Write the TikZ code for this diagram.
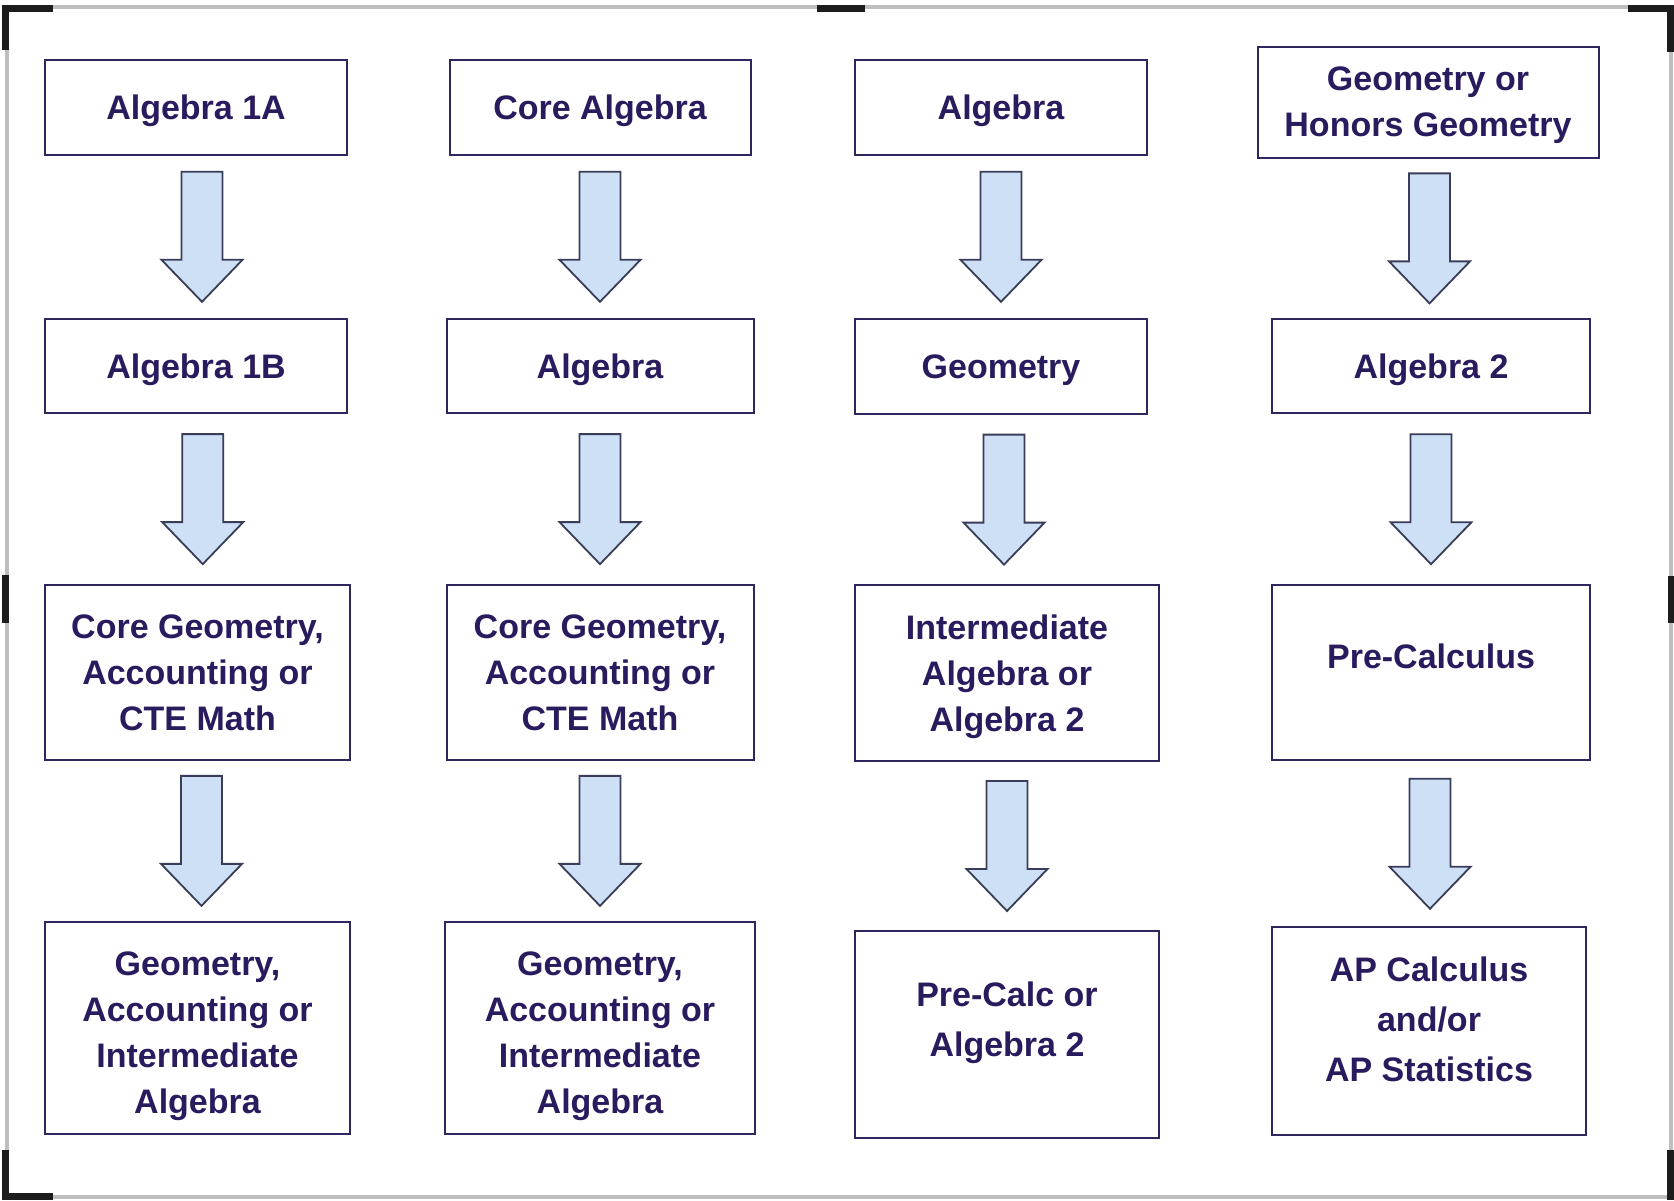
\documentclass[tikz,border=0pt]{standalone}
\usepackage{fontspec}
\setmainfont{Liberation Sans}
\usetikzlibrary{positioning,calc}
\definecolor{ink}{HTML}{2A1A5E}
\definecolor{boxline}{HTML}{2F2660}
\definecolor{arrline}{HTML}{3A3D58}
\definecolor{arrfill}{HTML}{CDE0F5}
\definecolor{framegrey}{HTML}{BEBEBE}
\definecolor{framedark}{HTML}{1C1C1C}
\tikzset{
  every node/.style={font=\bfseries\fontsize{17}{23}\selectfont, text=ink},
  course/.style={draw=boxline, line width=1pt, fill=white, align=center, inner sep=2pt, text depth=0pt},
  blockarr/.style={draw=arrline, fill=arrfill, line width=0.9pt, line join=miter},
  rim/.style={draw=framegrey, line width=2pt},
  bracket/.style={draw=framedark, line width=3.5pt},
}
% block arrow between two stacked boxes: [xshift]{upper}{lower}
\newcommand{\stepdown}[3][0pt]{%
  \draw[blockarr, shift={($(#2.south)!0.5!(#3.north)$)}, xshift=#1]
    (-10.25pt,32.5pt) -- (10.25pt,32.5pt) -- (10.25pt,-11.5pt) -- (20.25pt,-11.5pt)
    -- (0pt,-32.5pt) -- (-20.25pt,-11.5pt) -- (-10.25pt,-11.5pt) -- cycle;}

\begin{document}
\begin{tikzpicture}[x=0.5pt, y=-0.5pt]
  \useasboundingbox[fill=white] (0,0) rectangle (1674,1200);

  % ---- frame ------------------------------------------------------------
  \draw[rim] (7,7) rectangle (1671,1197);
  \draw[bracket] (5,50) -- (5,8) -- (53,8);
  \draw[bracket] (1628,8) -- (1670,8) -- (1670,52);
  \draw[bracket] (5,1150) -- (5,1196) -- (53,1196);
  \draw[bracket] (1670,1150) -- (1670,1200);
  \draw[bracket] (817,8) -- (865,8);
  \draw[bracket] (5,575) -- (5,623);
  \draw[bracket] (1671,576) -- (1671,623);

  % ---- column 1 ---------------------------------------------------------
  \node[course, minimum width=151pt, minimum height=47.5pt] (a1) at (196,107) {Algebra 1A};
  \node[course, below=81.3pt of a1, minimum width=151pt, minimum height=47pt] (a2) {Algebra 1B};
  \node[course, below=85pt of a2, minimum width=152.5pt, minimum height=87.5pt, xshift=0.75pt] (a3)
    {Core Geometry,\\Accounting or\\CTE Math};
  \node[course, below=79.75pt of a3, minimum width=152.5pt, minimum height=106pt, text height=85.5pt] (a4)
    {Geometry,\\Accounting or\\Intermediate\\Algebra};

  % ---- column 2 ---------------------------------------------------------
  \node[course, minimum width=150.5pt, minimum height=47.5pt] (b1) at (600,107) {Core Algebra};
  \node[course, below=81.3pt of b1, minimum width=153.5pt, minimum height=47pt] (b2) {Algebra};
  \node[course, below=85pt of b2, minimum width=153.5pt, minimum height=87.5pt] (b3)
    {Core Geometry,\\Accounting or\\CTE Math};
  \node[course, below=79.75pt of b3, minimum width=155pt, minimum height=106pt, text height=85.5pt] (b4)
    {Geometry,\\Accounting or\\Intermediate\\Algebra};

  % ---- column 3 ---------------------------------------------------------
  \node[course, minimum width=146pt, minimum height=47.5pt] (c1) at (1001,107) {Algebra};
  \node[course, below=81.3pt of c1, minimum width=146pt, minimum height=47.5pt] (c2) {Geometry};
  \node[course, below=84.5pt of c2, minimum width=152pt, minimum height=88pt, xshift=3pt] (c3)
    {Intermediate\\Algebra or\\Algebra 2};
  \node[course, below=83.9pt of c3, minimum width=152pt, minimum height=103.5pt, text depth=15pt] (c4)
    {Pre-Calc or\\[2pt]Algebra 2};

  % ---- column 4 ---------------------------------------------------------
  \node[course, minimum width=170.5pt, minimum height=55.5pt, text depth=-3.7pt] (d1) at (1428,102)
    {Geometry or\\Honors Geometry};
  \node[course, below=79.85pt of d1, minimum width=159pt, minimum height=47pt, xshift=1.5pt] (d2) {Algebra 2};
  \node[course, below=85pt of d2, minimum width=159pt, minimum height=87.5pt, text depth=17pt] (d3) {Pre-Calculus};
  \node[course, below=82.55pt of d3, minimum width=157pt, minimum height=104pt, xshift=-1pt, text depth=12pt] (d4)
    {AP Calculus\\[2pt]and/or\\[2pt]AP Statistics};

  % ---- arrows -----------------------------------------------------------
  \stepdown[3pt]{a1}{a2}
  \stepdown[3pt]{a2}{a3}
  \stepdown[2pt]{a3}{a4}
  \stepdown{b1}{b2}
  \stepdown{b2}{b3}
  \stepdown{b3}{b4}
  \stepdown{c1}{c2}
  \stepdown{c2}{c3}
  \stepdown{c3}{c4}
  \stepdown{d1}{d2}
  \stepdown{d2}{d3}
  \stepdown{d3}{d4}
\end{tikzpicture}
\end{document}
